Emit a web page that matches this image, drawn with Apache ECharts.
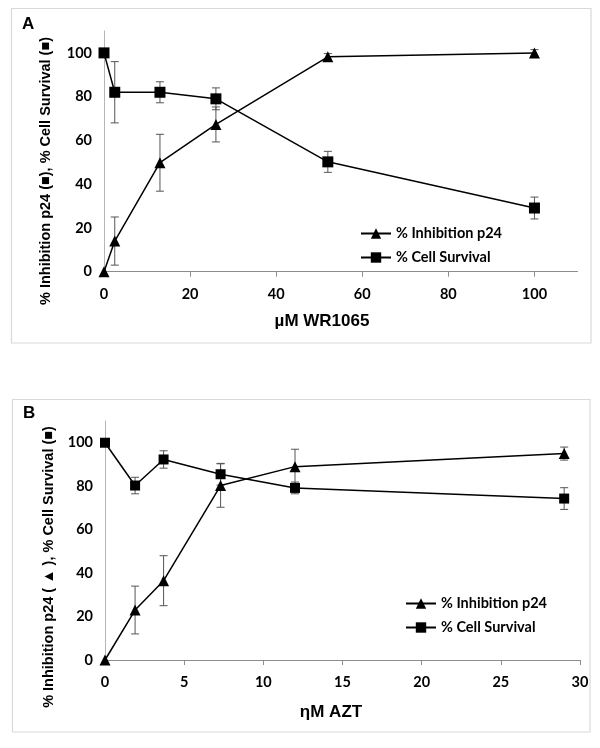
<!DOCTYPE html>
<html>
<head>
<meta charset="utf-8">
<script src="https://cdn.jsdelivr.net/npm/echarts@6/dist/echarts.min.js"></script>
<style>html,body{margin:0;padding:0;background:#fff;}#c{width:600px;height:748px;}</style>
</head>
<body>
<div id="c"></div>
<script>
// Panel A (WR1065)
const xA = [0, 2.5, 13, 26, 52, 100];
const inhibA = [0, 14, 49.8, 67.3, 98.2, 100];
const inhibAErr = [0, 11, 13, 8, 1.5, 1.5];
const survA = [100, 82, 82, 79, 50.2, 29.1];
const survAErr = [0, 14, 4.8, 5, 4.8, 5];
const xTicksA = [0, 20, 40, 60, 80, 100];
// Panel B (AZT)
const xB = [0, 1.9, 3.7, 7.3, 12, 29];
const inhibB = [0, 23, 36.5, 80.3, 89, 95];
const inhibBErr = [0, 11, 11.5, 10, 8, 3];
const survB = [100, 80.3, 92.3, 85.5, 79.2, 74.3];
const survBErr = [0, 3.8, 4, 5, 2.7, 5];
const xTicksB = [0, 5, 10, 15, 20, 25, 30];
const yTicks = [0, 20, 40, 60, 80, 100];

const names = ['% Inhibition p24', '% Cell Survival'];
const tickFont = {fontFamily: 'Lato, sans-serif', fontWeight: 'bold', fontSize: 14.5, color: '#000'};
const titleFont = 'bold 17px "Liberation Sans", Arial, sans-serif';

function pairs(xs, ys) { return xs.map((x, i) => [x, ys[i]]); }
function errData(xs, ys, es) { return xs.map((x, i) => [x, ys[i], es[i]]); }

function errSeries(xs, ys, es, gi) {
  return {
    type: 'custom', xAxisIndex: gi, yAxisIndex: gi, z: 1, silent: true,
    data: errData(xs, ys, es),
    renderItem: function (params, api) {
      const x = api.value(0), y = api.value(1), e = api.value(2);
      if (!(e > 0)) return null;
      const top = api.coord([x, y + e]);
      const bot = api.coord([x, y - e]);
      const st = {stroke: '#555', lineWidth: 1};
      const h = 4;
      return {type: 'group', children: [
        {type: 'line', shape: {x1: top[0], y1: top[1], x2: bot[0], y2: bot[1]}, style: st},
        {type: 'line', shape: {x1: top[0] - h, y1: top[1], x2: top[0] + h, y2: top[1]}, style: st},
        {type: 'line', shape: {x1: bot[0] - h, y1: bot[1], x2: bot[0] + h, y2: bot[1]}, style: st}
      ]};
    }
  };
}
function lineSeries(name, xs, ys, gi, sym, size) {
  return {
    name: name, type: 'line', xAxisIndex: gi, yAxisIndex: gi, z: 3,
    data: pairs(xs, ys), symbol: sym, symbolSize: size, showAllSymbol: true,
    lineStyle: {color: '#000', width: 1.5},
    itemStyle: {color: '#000'},
    emphasis: {disabled: true}
  };
}
function xAxis(gi, max, ticks) {
  return {
    type: 'value', gridIndex: gi, min: 0, max: max,
    axisLine: {show: true, lineStyle: {color: '#8c8c8c', width: 1}},
    axisTick: {show: true, inside: false, length: 5, lineStyle: {color: '#8c8c8c'}, customValues: ticks},
    axisLabel: Object.assign({margin: 15, customValues: ticks}, tickFont),
    splitLine: {show: false}
  };
}
function yAxis(gi) {
  return {
    type: 'value', gridIndex: gi, min: 0, max: 110,
    axisLine: {show: true, lineStyle: {color: '#b5b5b5', width: 1}},
    axisTick: {show: false},
    axisLabel: Object.assign({margin: 12, customValues: yTicks}, tickFont),
    splitLine: {show: false}
  };
}
function legend(left, top) {
  return {
    data: names, left: left, top: top, orient: 'vertical', itemWidth: 30, itemHeight: 13, itemGap: 9,
    textStyle: {fontFamily: 'Lato, sans-serif', fontWeight: 'bold', fontSize: 14.5, color: '#000'},
    selectedMode: false
  };
}

const chart = echarts.init(document.getElementById('c'), null, {renderer: 'canvas'});
chart.setOption({
  animation: false,
  backgroundColor: '#fff',
  grid: [
    {left: 104, top: 31, width: 473.5, height: 240.7},
    {left: 105, top: 421, width: 475, height: 239}
  ],
  xAxis: [xAxis(0, 110, xTicksA), xAxis(1, 30, xTicksB)],
  yAxis: [yAxis(0), yAxis(1)],
  legend: [legend(355, 221), legend(400, 591)],
  series: [
    errSeries(xA, inhibA, inhibAErr, 0),
    errSeries(xA, survA, survAErr, 0),
    lineSeries(names[0], xA, inhibA, 0, 'triangle', 11),
    lineSeries(names[1], xA, survA, 0, 'rect', 11),
    errSeries(xB, inhibB, inhibBErr, 1),
    errSeries(xB, survB, survBErr, 1),
    lineSeries(names[0], xB, inhibB, 1, 'triangle', 11),
    lineSeries(names[1], xB, survB, 1, 'rect', 10)
  ],
  graphic: [
    {type: 'rect', shape: {x: 11.5, y: 8.5, width: 579.5, height: 334.5}, style: {fill: 'none', stroke: '#d9d9d9', lineWidth: 1.2}, z: -1},
    {type: 'rect', shape: {x: 12.5, y: 399.5, width: 577.5, height: 332.5}, style: {fill: 'none', stroke: '#d9d9d9', lineWidth: 1.2}, z: -1},
    {type: 'text', x: 22, y: 24, style: {text: 'A', font: titleFont, fill: '#000', verticalAlign: 'middle'}},
    {type: 'text', x: 23, y: 413, style: {text: 'B', font: titleFont, fill: '#000', verticalAlign: 'middle'}},
    {type: 'text', x: 322, y: 321, style: {text: 'µM WR1065', font: titleFont, fill: '#000', align: 'center', verticalAlign: 'middle'}},
    {type: 'text', x: 331, y: 712, style: {text: 'ηM AZT', font: titleFont, fill: '#000', align: 'center', verticalAlign: 'middle'}},
    {type: 'text', x: 46, y: 171, rotation: Math.PI / 2, style: {text: '% Inhibition p24 (■), % Cell Survival (■)', font: 'bold 14.5px "Liberation Sans", Arial, sans-serif', fill: '#000', align: 'center', verticalAlign: 'middle'}},
    {type: 'text', x: 49, y: 567, rotation: Math.PI / 2, style: {text: '% Inhibition p24 ( ▲ ), % Cell Survival (■)', font: 'bold 14.5px "Liberation Sans", Arial, sans-serif', fill: '#000', align: 'center', verticalAlign: 'middle'}}
  ]
});
</script>
</body>
</html>
